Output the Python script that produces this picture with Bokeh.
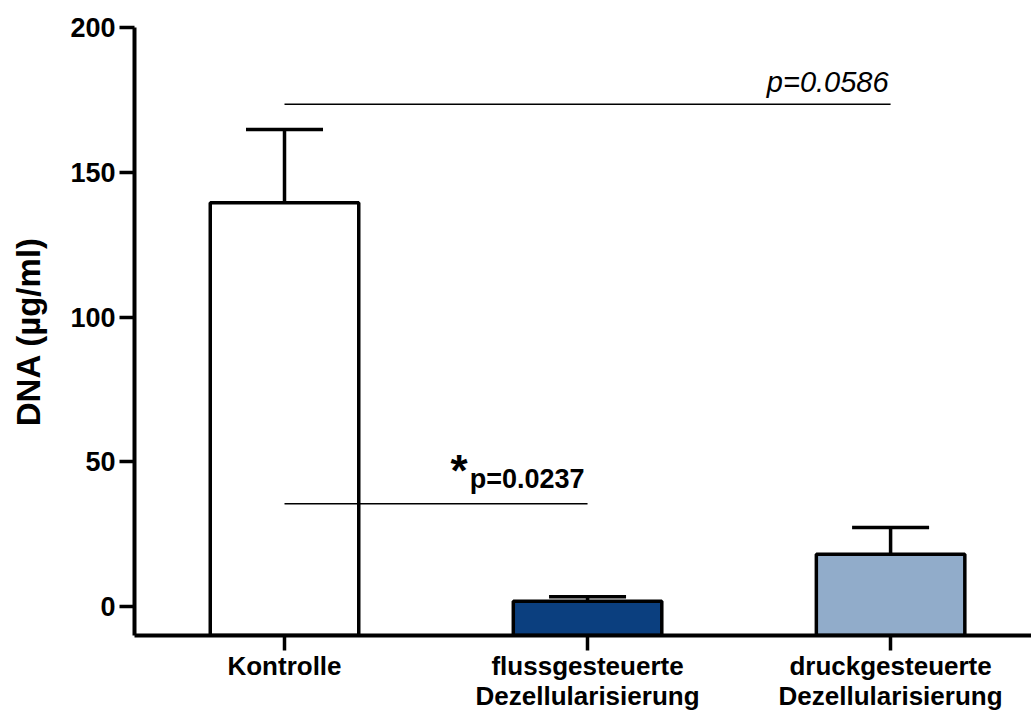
from bokeh.plotting import figure
from bokeh.models import Range1d, FixedTicker, Whisker, TeeHead, ColumnDataSource
from bokeh.core.properties import value
from bokeh.embed import file_html
from bokeh.resources import INLINE

# ---- data ----
categories = ["Kontrolle",
              "flussgesteuerte\nDezellularisierung",
              "druckgesteuerte\nDezellularisierung"]
means = [139.5, 1.8, 18.1]
sem = [25.3, 1.6, 9.2]
bar_colors = ["#FFFFFF", "#0B3F7F", "#91ACCA"]
y_ticks = [0, 50, 100, 150, 200]

comp_start = [0, 0]
comp_end = [2, 1]
comp_y = [173.5, 35.5]
comp_labels = ["p=0.0586", "p=0.0237"]

FONT = "Liberation Sans"
idx = list(range(len(categories)))
upper = [m + s for m, s in zip(means, sem)]

W, H = 1031, 713
B_LEFT, B_TOP, B_BOTTOM = 134, 27, 78
Y0, Y1 = -10, 200
px_per_unit = (H - B_TOP - B_BOTTOM) / (Y1 - Y0)

p = figure(width=W, height=H,
           x_range=Range1d(-0.495, 2.465), y_range=Range1d(Y0, Y1),
           output_backend="svg", toolbar_location=None,
           min_border_left=B_LEFT, min_border_right=0,
           min_border_top=B_TOP, min_border_bottom=B_BOTTOM)
p.background_fill_color = "white"
p.border_fill_color = "white"
p.outline_line_color = None
p.xgrid.visible = False
p.ygrid.visible = False

src = ColumnDataSource(dict(x=idx, top=means, upper=upper, color=bar_colors))

p.vbar(x="x", bottom=Y0, top="top", width=0.49, fill_color="color",
       line_color="black", line_width=3.5, source=src)

whisk = Whisker(base="x", upper="upper", lower="top", source=src,
                line_color="black", line_width=3.5,
                upper_head=TeeHead(size=77, line_color="black", line_width=3.5),
                lower_head=None)
p.add_layout(whisk)

# comparison lines
p.segment(x0=comp_start, y0=comp_y, x1=comp_end, y1=comp_y,
          line_color="black", line_width=1.5)

p.text(x=[comp_end[0]], y=[comp_y[0] + 22 / px_per_unit], text=[comp_labels[0]],
       text_font=value(FONT), text_font_style="italic", text_font_size="29px",
       text_align="right", text_baseline="alphabetic", x_offset=-2,
       text_color="black")
p.text(x=[comp_end[1]], y=[comp_y[1] + 25 / px_per_unit], text=[comp_labels[1]],
       text_font=value(FONT), text_font_style="bold", text_font_size="27px",
       text_align="right", text_baseline="alphabetic", x_offset=-3,
       text_color="black")
p.text(x=[comp_end[1]], y=[comp_y[1] + 33 / px_per_unit], text=["*"],
       text_font=value(FONT), text_font_style="bold", text_font_size="44px",
       text_align="right", text_baseline="alphabetic", x_offset=-120,
       text_color="black")

# axes
for ax in (p.xaxis[0], p.yaxis[0]):
    ax.axis_line_width = 4
    ax.axis_line_color = "black"
    ax.major_tick_line_width = 3.5
    ax.major_tick_line_color = "black"
    ax.major_tick_out = 15
    ax.major_tick_in = 0
    ax.minor_tick_line_color = None
    ax.major_label_text_font = FONT
    ax.major_label_text_font_style = "bold"
    ax.major_label_text_font_size = "26px"
    ax.major_label_text_color = "black"

p.xaxis.ticker = FixedTicker(ticks=idx)
p.xaxis.major_label_overrides = {i: c for i, c in zip(idx, categories)}
p.xaxis.major_label_standoff = 0
p.xaxis.major_label_text_line_height = 1.0

p.yaxis.ticker = FixedTicker(ticks=y_ticks)
p.yaxis.major_label_standoff = 4
p.yaxis.major_label_text_font_size = "27px"
p.yaxis.axis_label = "DNA (µg/ml)"
p.yaxis.axis_label_text_font = FONT
p.yaxis.axis_label_text_font_style = "bold"
p.yaxis.axis_label_text_font_size = "33px"
p.yaxis.axis_label_text_color = "black"
p.yaxis.axis_label_standoff = 20

open("out.html", "w").write(file_html(p, INLINE))
